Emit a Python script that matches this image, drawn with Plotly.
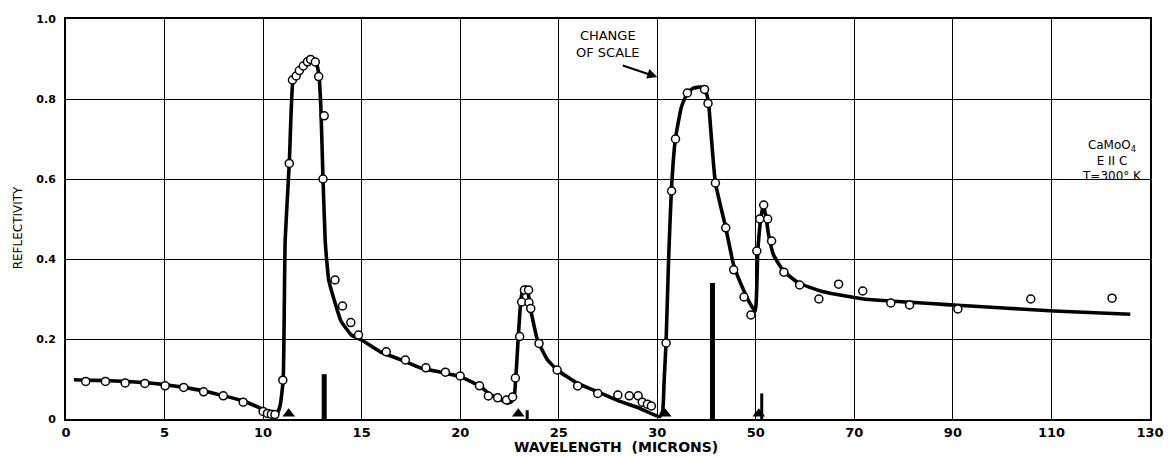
import numpy as np
import plotly.graph_objects as go

# ---------------- data (wavelength in microns, reflectivity) ----------------
curve_lambda = [0.4, 1, 2, 3, 4, 5, 6, 7, 8, 9, 10, 10.4, 10.71, 10.87, 11.02, 11.12, 11.33, 11.52,
                11.68, 12.0, 12.33, 12.57, 12.73, 12.84, 12.93, 13.04, 13.15, 13.24, 13.33, 13.7,
                13.95, 14.48, 15.0, 15.95, 17.0, 18.0, 19.0, 20.0, 20.98, 21.5, 22.0, 22.42, 22.6,
                22.75, 22.95, 23.08, 23.2, 23.33, 23.45, 23.55, 23.92, 24.4, 24.92, 25.96, 26.98,
                28.0, 29.1, 30.55, 31.1, 31.4, 31.78, 32.3, 32.86, 33.67, 34.9, 36.1, 37.35, 38.8,
                39.8, 40.4, 41.0, 41.8, 43.9, 45.5, 47.6, 49.0, 49.9, 50.4, 51.0, 51.5, 52.0, 52.6,
                53.6, 55.6, 58.7, 63.7, 71.9, 90.1, 110.5, 126.0]
curve_R = [0.098, 0.097, 0.096, 0.094, 0.091, 0.086, 0.079, 0.070, 0.058, 0.045, 0.024, 0.014, 0.013,
           0.035, 0.0975, 0.4475, 0.64, 0.85, 0.862, 0.88, 0.8975, 0.8975, 0.885, 0.856, 0.78,
           0.60, 0.4475, 0.39, 0.3475, 0.2825, 0.245, 0.21, 0.1975, 0.168, 0.148, 0.1275, 0.117,
           0.106, 0.083, 0.062, 0.05, 0.04, 0.043, 0.06, 0.2075, 0.2975, 0.325, 0.33, 0.315, 0.28,
           0.1975, 0.15, 0.1225, 0.089, 0.068, 0.046, 0.027, 0.006, 0.02, 0.0975, 0.19, 0.40, 0.57,
           0.70, 0.78, 0.815, 0.827, 0.83, 0.82, 0.79, 0.70, 0.59, 0.478, 0.385, 0.32, 0.285, 0.27,
           0.42, 0.50, 0.535, 0.51, 0.46, 0.41, 0.37, 0.34, 0.318, 0.30, 0.285, 0.27, 0.262]

pts_lambda = [1, 2, 3, 4, 5.03, 5.97, 6.98, 7.98, 8.99, 10.0, 10.22, 10.42, 10.6, 11.0, 11.33, 11.49,
              11.68, 11.84, 12.04, 12.25, 12.41, 12.65, 12.82, 13.1, 13.04, 13.65, 14.03, 14.45,
              14.84, 16.25, 17.22, 18.26, 19.25, 20.0, 20.98, 21.43, 21.9, 22.35, 22.66, 22.8,
              23.02, 23.12, 23.26, 23.47, 23.49, 23.58, 24.0, 24.92, 25.96, 26.98, 28.0, 28.58,
              29.03, 29.24, 29.5, 29.7, 31.8, 32.9, 33.7, 36.1, 39.6, 40.3, 41.8, 43.9, 45.5, 47.6,
              49.0, 50.2, 50.8, 51.6, 52.4, 53.2, 55.7, 58.9, 62.8, 66.8, 71.7, 77.4, 81.2, 91.0,
              105.8, 122.3]
pts_R = [0.094, 0.094, 0.090, 0.089, 0.083, 0.079, 0.068, 0.058, 0.042, 0.019, 0.014, 0.012, 0.011,
         0.097, 0.639, 0.8475, 0.8575, 0.871, 0.8825, 0.893, 0.899, 0.8925, 0.856, 0.758, 0.60,
         0.3475, 0.2825, 0.241, 0.21, 0.168, 0.1475, 0.128, 0.117, 0.1075, 0.083, 0.0575, 0.053,
         0.0475, 0.055, 0.1025, 0.206, 0.2925, 0.3225, 0.3225, 0.291, 0.276, 0.189, 0.1225,
         0.0825, 0.064, 0.06, 0.058, 0.058, 0.042, 0.037, 0.0325, 0.19, 0.57, 0.70, 0.815, 0.824,
         0.789, 0.59, 0.478, 0.373, 0.305, 0.26, 0.42, 0.50, 0.535, 0.50, 0.445, 0.367, 0.335,
         0.30, 0.337, 0.32, 0.29, 0.285, 0.275, 0.30, 0.302]

strong_bar_lambda = [13.1, 41.2]
strong_bar_height = [0.112, 0.34]
weak_bar_lambda = [23.4, 51.2]
weak_bar_height = [0.022, 0.064]
triangle_lambda = [11.3, 22.95, 31.6, 50.6]

tick_microns = [0, 5, 10, 15, 20, 25, 30, 50, 70, 90, 110, 130]
tick_labels = ["0", "5", "10", "15", "20", "25", "30", "50", "70", "90", "110", "130"]
y_ticks = [0, 0.2, 0.4, 0.6, 0.8, 1.0]
y_labels = ["0", "0.2", "0.4", "0.6", "0.8", "1.0"]


# ---------------- broken wavelength scale (change of scale at 30 microns) ----------------
def xs(lam):
    lam = np.asarray(lam, dtype=float)
    return np.where(lam <= 30, lam / 5.0, 6.0 + (lam - 30.0) / 20.0)


FONT = "DejaVu Sans"
fig = go.Figure()

# bars (spectral lines)
bx, by = [], []
for l, h in zip(strong_bar_lambda, strong_bar_height):
    bx += [float(xs(l)), float(xs(l)), None]
    by += [0, h, None]
fig.add_trace(go.Scatter(x=bx, y=by, mode="lines", line=dict(color="black", width=5),
                         hoverinfo="skip", showlegend=False))
wx, wy = [], []
for l, h in zip(weak_bar_lambda, weak_bar_height):
    wx += [float(xs(l)), float(xs(l)), None]
    wy += [0, h, None]
fig.add_trace(go.Scatter(x=wx, y=wy, mode="lines", line=dict(color="black", width=3),
                         hoverinfo="skip", showlegend=False))
fig.add_trace(go.Scatter(x=xs(triangle_lambda), y=[0.013] * len(triangle_lambda), mode="markers",
                         marker=dict(symbol="triangle-up", size=11, color="black"),
                         cliponaxis=False, showlegend=False))

# fitted curve
fig.add_trace(go.Scatter(x=xs(curve_lambda), y=curve_R, mode="lines",
                         line=dict(color="black", width=3.6, shape="spline", smoothing=0.4),
                         showlegend=False))
# measured points
fig.add_trace(go.Scatter(x=xs(pts_lambda), y=pts_R, mode="markers",
                         marker=dict(symbol="circle", size=8, color="white",
                                     line=dict(color="black", width=1.5)),
                         cliponaxis=False, showlegend=False))

fig.update_layout(
    width=1176, height=457,
    margin=dict(l=66, r=17, t=19, b=38),
    paper_bgcolor="white", plot_bgcolor="white",
    font=dict(family=FONT, color="black", size=13, weight="bold"),
    xaxis=dict(range=[0, 11], tickmode="array", tickvals=xs(tick_microns).tolist(),
               ticktext=tick_labels, showgrid=True, gridcolor="black", gridwidth=1,
               showline=True, linecolor="black", linewidth=2, mirror=True, ticks="",
               zeroline=False,
               tickfont=dict(family=FONT, size=13, color="black", weight="bold")),
    yaxis=dict(range=[0, 1.0], tickmode="array", tickvals=y_ticks, ticktext=y_labels,
               showgrid=True, gridcolor="black", gridwidth=1,
               showline=True, linecolor="black", linewidth=2, mirror=True, ticks="",
               ticklabelstandoff=6, zeroline=False,
               tickfont=dict(family=FONT, size=11, color="black", weight="bold")),
)

fig.add_annotation(text="REFLECTIVITY", textangle=-90, xref="paper", yref="paper",
                   x=-0.044, y=0.4775, xanchor="center", yanchor="middle", showarrow=False,
                   font=dict(size=12, weight="normal"))
fig.add_annotation(text="WAVELENGTH  (MICRONS)", xref="paper", yref="paper",
                   x=0.507, y=-0.07, xanchor="center", yanchor="middle", showarrow=False,
                   font=dict(size=14, weight="bold"))
fig.add_annotation(text="CHANGE<br>OF SCALE", xref="x", yref="y", x=5.495, y=0.9375,
                   xanchor="center", yanchor="middle", showarrow=False,
                   font=dict(size=13, weight="normal"), align="center")
fig.add_annotation(text="", xref="x", yref="y", x=6.0, y=0.855, ax=-36, ay=-12,
                   showarrow=True, arrowhead=2, arrowsize=1, arrowwidth=2, arrowcolor="black")
fig.add_annotation(text="CaMoO<sub>4</sub><br>E II C<br>T=300° K", xref="paper", yref="paper",
                   x=0.965, y=0.6475, xanchor="center", yanchor="middle", showarrow=False,
                   align="center", font=dict(size=12, weight="normal"))

fig.write_html("out.html")
